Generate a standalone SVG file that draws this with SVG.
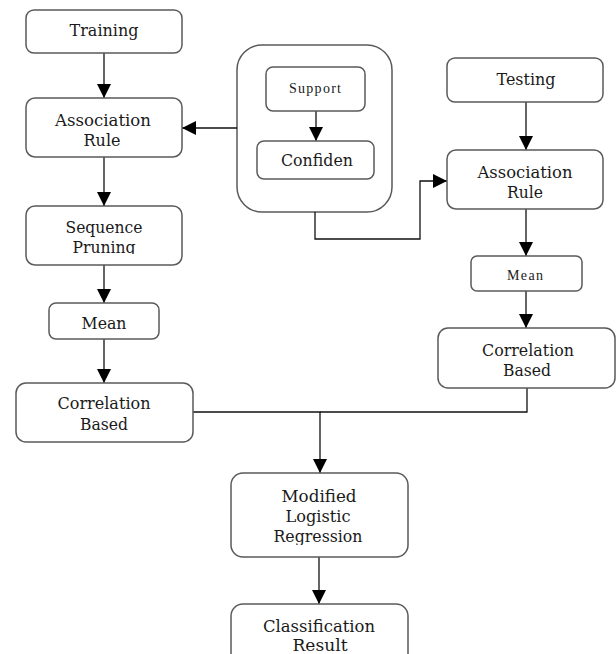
<svg xmlns="http://www.w3.org/2000/svg" width="616" height="654" viewBox="0 0 616 654">
<style>
.box{fill:#fff;stroke:#5a5a5a;stroke-width:1.5}
.t{font-family:'DejaVu Serif','Liberation Serif',serif;font-size:17px;fill:#1a1a1a;text-anchor:middle}
.s{font-family:'Liberation Serif','Times New Roman',serif;font-size:14px}
.c{fill:none;stroke:#111;stroke-width:1.3}
</style>
<defs>
<marker id="ah" markerUnits="userSpaceOnUse" markerWidth="15" markerHeight="15" refX="14" refY="7" orient="auto">
<path d="M0,0 L14,7 L0,14 z" fill="#000"/>
</marker>
<clipPath id="clipSeq"><rect x="0" y="0" width="616" height="254"/></clipPath>
<clipPath id="clipMLR"><rect x="0" y="0" width="616" height="545"/></clipPath>
</defs>
<rect width="616" height="654" fill="#fff"/>
<g id="group-box">
<rect class="box" x="237" y="45" width="155" height="167" rx="25"/>
</g>
<g id="connectors">
<line class="c" x1="104" y1="53" x2="104" y2="98" marker-end="url(#ah)"/>
<line class="c" x1="104" y1="157" x2="104" y2="206" marker-end="url(#ah)"/>
<line class="c" x1="104" y1="265" x2="104" y2="303" marker-end="url(#ah)"/>
<line class="c" x1="104" y1="339" x2="104" y2="383" marker-end="url(#ah)"/>
<line class="c" x1="237" y1="128" x2="182" y2="128" marker-end="url(#ah)"/>
<line class="c" x1="316" y1="111" x2="316" y2="141" marker-end="url(#ah)"/>
<path class="c" d="M315,212 V239 H420 V181 H447" marker-end="url(#ah)"/>
<line class="c" x1="526" y1="102" x2="526" y2="150" marker-end="url(#ah)"/>
<line class="c" x1="526" y1="209" x2="526" y2="256" marker-end="url(#ah)"/>
<line class="c" x1="526" y1="291" x2="526" y2="328" marker-end="url(#ah)"/>
<path class="c" d="M193,412 H320 V473" marker-end="url(#ah)"/>
<path class="c" d="M527,388 V412 H320"/>
<line class="c" x1="319" y1="557" x2="319" y2="604" marker-end="url(#ah)"/>
</g>
<g id="training">
<rect class="box" x="26" y="10" width="156" height="43" rx="8"/>
<text class="t" x="104" y="36" textLength="69" lengthAdjust="spacingAndGlyphs">Training</text>
</g>
<g id="assoc-left">
<rect class="box" x="26" y="98" width="156" height="59" rx="9"/>
<text class="t" x="103" y="126" textLength="96" lengthAdjust="spacingAndGlyphs">Association</text>
<text class="t" x="102" y="146" textLength="37" lengthAdjust="spacingAndGlyphs">Rule</text>
</g>
<g id="seq-pruning">
<rect class="box" x="26" y="206" width="156" height="59" rx="9"/>
<text class="t" x="104" y="233" textLength="77" lengthAdjust="spacingAndGlyphs">Sequence</text>
<g clip-path="url(#clipSeq)">
<text class="t" x="104" y="253" textLength="63" lengthAdjust="spacingAndGlyphs">Pruning</text>
</g>
</g>
<g id="mean-left">
<rect class="box" x="49" y="303" width="110" height="36" rx="7"/>
<text class="t" x="104" y="329" textLength="45" lengthAdjust="spacingAndGlyphs">Mean</text>
</g>
<g id="corr-left">
<rect class="box" x="16" y="383" width="177" height="59" rx="10"/>
<text class="t" x="104" y="409" textLength="93" lengthAdjust="spacingAndGlyphs">Correlation</text>
<text class="t" x="104" y="430" textLength="48" lengthAdjust="spacingAndGlyphs">Based</text>
</g>
<g id="support">
<rect class="box" x="266" y="67" width="99" height="44" rx="7"/>
<text class="t s" x="315" y="93" textLength="52" lengthAdjust="spacing">Support</text>
</g>
<g id="confiden">
<rect class="box" x="257" y="141" width="117" height="38" rx="7"/>
<text class="t" x="317" y="166" textLength="72" lengthAdjust="spacingAndGlyphs">Confiden</text>
</g>
<g id="testing">
<rect class="box" x="447" y="58" width="156" height="44" rx="8"/>
<text class="t" x="526" y="85" textLength="59" lengthAdjust="spacingAndGlyphs">Testing</text>
</g>
<g id="assoc-right">
<rect class="box" x="447" y="150" width="156" height="59" rx="9"/>
<text class="t" x="525" y="178" textLength="95" lengthAdjust="spacingAndGlyphs">Association</text>
<text class="t" x="525" y="198" textLength="36" lengthAdjust="spacingAndGlyphs">Rule</text>
</g>
<g id="mean-right">
<rect class="box" x="471" y="256" width="111" height="35" rx="6"/>
<text class="t s" x="525" y="280" textLength="36" lengthAdjust="spacing">Mean</text>
</g>
<g id="corr-right">
<rect class="box" x="438" y="328" width="177" height="60" rx="10"/>
<text class="t" x="528" y="356" textLength="92" lengthAdjust="spacingAndGlyphs">Correlation</text>
<text class="t" x="527" y="376" textLength="48" lengthAdjust="spacingAndGlyphs">Based</text>
</g>
<g id="mlr">
<rect class="box" x="231" y="473" width="177" height="84" rx="12"/>
<text class="t" x="319" y="502" textLength="75" lengthAdjust="spacingAndGlyphs">Modified</text>
<text class="t" x="318" y="522" textLength="65" lengthAdjust="spacingAndGlyphs">Logistic</text>
<g clip-path="url(#clipMLR)">
<text class="t" x="318" y="542" textLength="89" lengthAdjust="spacingAndGlyphs">Regression</text>
</g>
</g>
<g id="classification">
<rect class="box" x="231" y="604" width="177" height="70" rx="12"/>
<text class="t" x="319" y="632" textLength="112" lengthAdjust="spacingAndGlyphs">Classification</text>
<text class="t" x="320" y="651" textLength="55" lengthAdjust="spacingAndGlyphs">Result</text>
</g>
</svg>
